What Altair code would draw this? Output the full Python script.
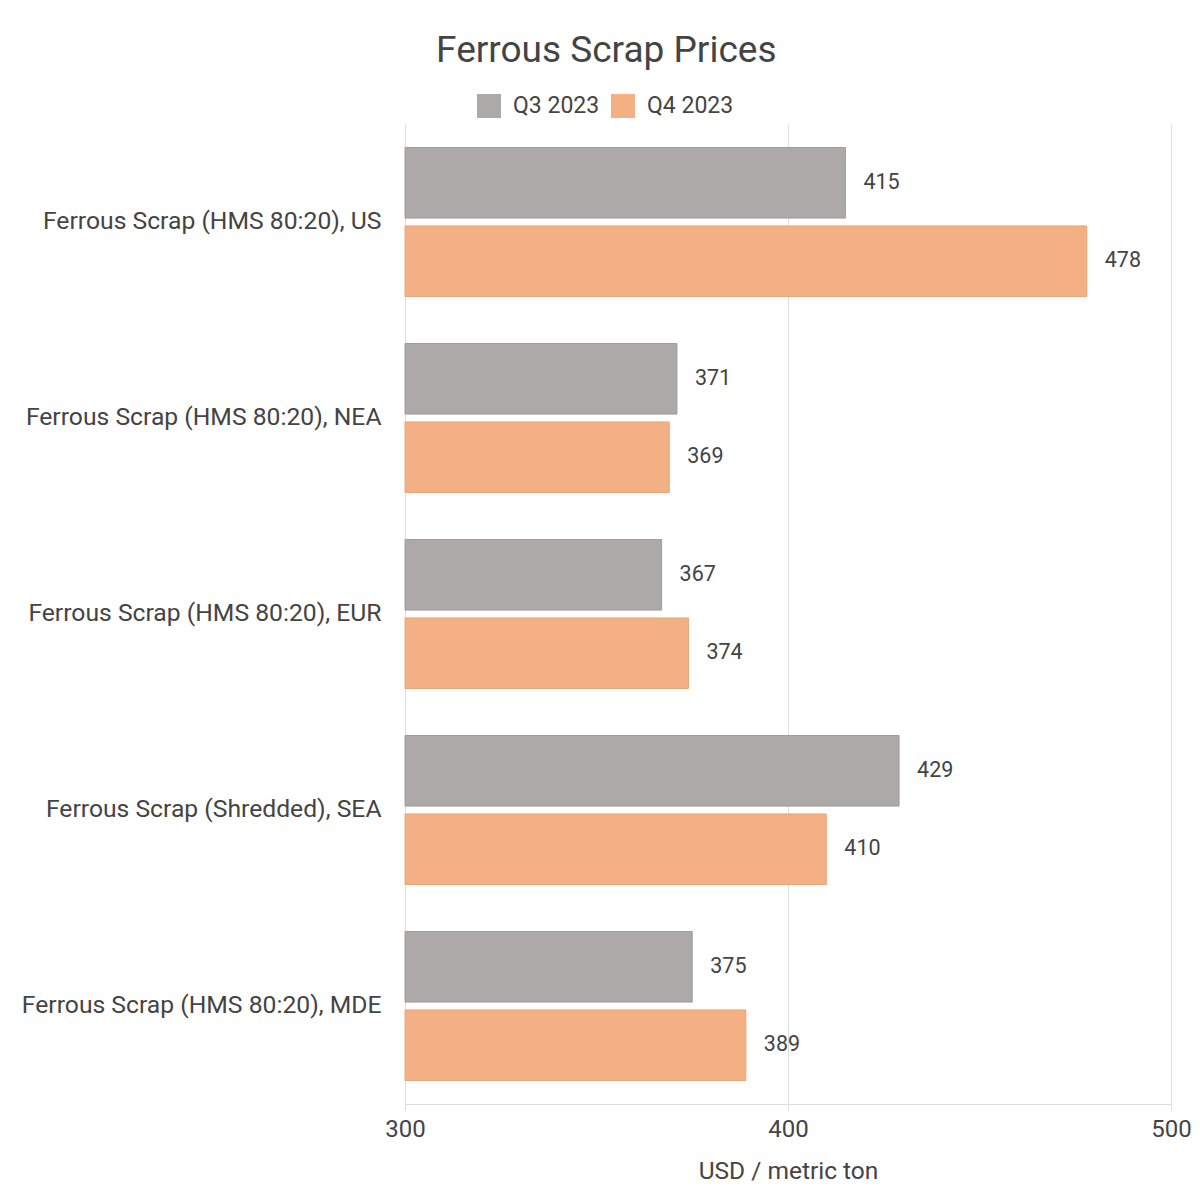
import pandas as pd
import altair as alt

categories = [
    "Ferrous Scrap (HMS 80:20), US",
    "Ferrous Scrap (HMS 80:20), NEA",
    "Ferrous Scrap (HMS 80:20), EUR",
    "Ferrous Scrap (Shredded), SEA",
    "Ferrous Scrap (HMS 80:20), MDE",
]
periods = ["Q3 2023", "Q4 2023"]
q3_values = [415, 371, 367, 429, 375]
q4_values = [478, 369, 374, 410, 389]
colors = ["#ADA9A8", "#F3B084"]
strokes = ["#A09C9B", "#EAA678"]

rows = []
for cat, a, b in zip(categories, q3_values, q4_values):
    rows.append({"category": cat, "period": periods[0], "price": a})
    rows.append({"category": cat, "period": periods[1], "price": b})
df = pd.DataFrame(rows)

FONT = "Roboto"
TXT = "#444444"

y_enc = alt.Y("category:N", sort=categories, title=None,
              scale=alt.Scale(paddingInner=0.24, paddingOuter=0.12),
              axis=alt.Axis(labelFontSize=24.7, labelColor=TXT, labelFont=FONT,
                            ticks=False, domain=False, labelPadding=24, labelLimit=500))
yoff = alt.YOffset("period:N", sort=periods, scale=alt.Scale(paddingInner=0.1))
x_enc = alt.X("price:Q", title="USD / metric ton",
              scale=alt.Scale(domain=[300, 500], clamp=True),
              axis=alt.Axis(values=[300, 400, 500], tickColor="#dddddd", tickSize=6,
                            labelFontSize=24, labelColor=TXT, labelFont=FONT,
                            titleFontSize=24.5, titleColor=TXT, titleFont=FONT,
                            titleFontWeight="normal", titlePadding=18, labelPadding=7,
                            gridColor="#dddddd", domainColor="#dddddd", labelFlush=False))

base = alt.Chart(df).encode(y=y_enc, yOffset=yoff)

bars = base.mark_bar(strokeWidth=1).encode(
    x=x_enc,
    x2=alt.value(0),
    color=alt.Color("period:N", sort=periods,
                    scale=alt.Scale(domain=periods, range=colors),
                    legend=alt.Legend(title=None, orient="none", direction="horizontal",
                                      legendX=72, legendY=-30,
                                      symbolType="square", symbolSize=576,
                                      symbolStrokeWidth=0, labelFontSize=23,
                                      labelColor=TXT, labelFont=FONT,
                                      labelOffset=12, columnPadding=11)),
    stroke=alt.Stroke("period:N", scale=alt.Scale(domain=periods, range=strokes), legend=None),
)

labels = base.mark_text(align="left", dx=18, fontSize=21.5, color=TXT, font=FONT).encode(
    x=alt.X("price:Q"),
    text=alt.Text("price:Q"),
)

chart = (bars + labels).properties(
    width=766, height=980,
    background="white",
    padding={"left": 13, "top": 24, "right": 0, "bottom": 0},
    title=alt.TitleParams("Ferrous Scrap Prices", fontSize=37, font=FONT, color=TXT,
                          fontWeight="normal", anchor="middle", frame="bounds", offset=24),
).configure_view(stroke=None)

chart.save("out.html", embed_options={"renderer": "svg", "actions": False})
